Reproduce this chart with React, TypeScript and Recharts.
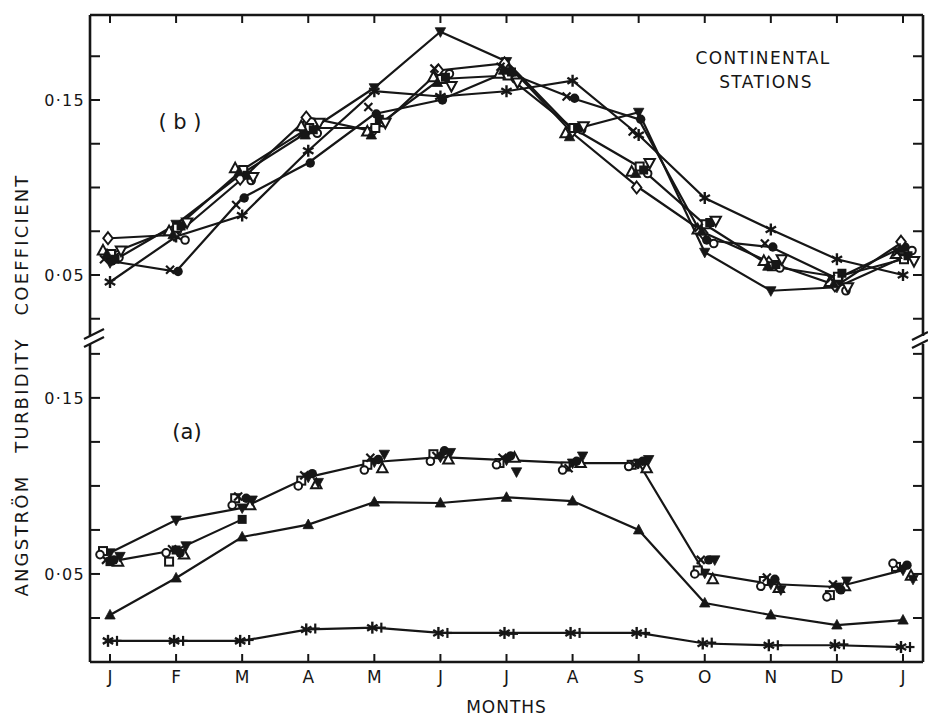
import React from "react";
import { Line, LineChart, XAxis, YAxis } from "recharts";

const W = 928;
const H = 717;
const INK = "#161616";
const FONT = "'DejaVu Sans', sans-serif";

// months on the shared x axis
const months = ["J", "F", "M", "A", "M", "J", "J", "A", "S", "O", "N", "D", "J"];
const axisTicks = [0.025, 0.05, 0.075, 0.1, 0.125, 0.15, 0.175];
const labelledTicks = [0.05, 0.15];

// (b) continental stations, joined series
const bDownFill = [0.057, 0.079, 0.108, 0.132, 0.157, 0.189, 0.172, 0.133, 0.143, 0.063, 0.041, 0.043, 0.06];
const bStar = [0.046, 0.072, 0.084, 0.121, 0.155, 0.152, 0.155, 0.161, 0.13, 0.094, 0.076, 0.059, 0.05];
const bDisc = [0.058, 0.052, 0.094, 0.114, 0.142, 0.15, 0.166, 0.151, 0.139, 0.07, 0.066, 0.048, 0.066];
const bDiamond = [0.071, 0.073, 0.105, 0.14, 0.132, 0.167, 0.171, 0.131, 0.1, 0.074, 0.057, 0.044, 0.069];
const bSquare = [0.062, 0.077, 0.11, 0.134, 0.134, 0.162, 0.164, 0.134, 0.112, 0.079, 0.055, 0.049, 0.059];
// (b) remaining stations, symbols only
const bTri = [0.064, 0.075, 0.111, 0.135, 0.132, 0.163, 0.165, 0.131, 0.109, 0.076, 0.058, 0.046, 0.062];
const bCircle = [0.06, 0.07, 0.104, 0.131, 0.137, 0.165, 0.162, 0.133, 0.108, 0.068, 0.054, 0.041, 0.064];
const bBlock = [0.059, 0.078, 0.107, 0.133, 0.139, 0.163, 0.166, 0.134, 0.11, 0.08, 0.056, 0.051, 0.061];
const bCross = [0.059, 0.053, 0.09, 0.131, 0.146, 0.168, 0.169, 0.152, 0.132, 0.077, 0.068, 0.048, 0.063];
const bDown = [0.064, 0.08, 0.106, 0.137, 0.137, 0.158, 0.16, 0.135, 0.114, 0.081, 0.059, 0.043, 0.058];
const bTriFill = [0.062, 0.073, 0.109, 0.13, 0.13, 0.16, 0.167, 0.129, 0.108, 0.075, 0.055, 0.045, 0.065];

// (a) joined series
const aDownFill = [0.062, 0.0806, 0.0875, 0.105, 0.1136, 0.1164, 0.1147, 0.113, 0.113, 0.0505, 0.0443, 0.0426, 0.0522];
const aBlock = [0.057, 0.0636, 0.081, null, null, null, null, null, null, null, null, null, null];
const aTriFill = [0.0267, 0.0477, 0.071, 0.078, 0.0908, 0.0903, 0.0935, 0.0914, 0.075, 0.0335, 0.0267, 0.021, 0.0238];
const aStar = [0.012, 0.012, 0.012, 0.0185, 0.0195, 0.0165, 0.0165, 0.0165, 0.0165, 0.0105, 0.0095, 0.0095, 0.0085];
// (a) symbols only
const aPlus = [0.012, 0.012, 0.0125, 0.019, 0.0195, 0.0165, 0.016, 0.0165, 0.0165, 0.011, 0.0095, 0.01, 0.0085];
const aSquare = [0.063, 0.057, 0.093, 0.103, 0.112, 0.118, 0.113, 0.111, 0.112, 0.052, 0.046, 0.038, 0.054];
const aTri = [0.057, 0.061, 0.089, 0.101, 0.11, 0.115, 0.116, 0.113, 0.11, 0.047, 0.042, 0.043, 0.049];
const aDisc = [0.058, 0.062, 0.093, 0.107, 0.115, 0.12, 0.117, 0.114, 0.114, 0.058, 0.047, 0.041, 0.055];
const aCross = [0.058, 0.064, 0.094, 0.106, 0.116, 0.117, 0.116, 0.11, 0.112, 0.058, 0.048, 0.044, 0.053];
const aDown = [0.06, 0.066, 0.092, 0.102, 0.118, 0.119, 0.108, 0.117, 0.115, 0.058, 0.041, 0.046, 0.047];
const aCircle = [0.061, 0.062, 0.089, 0.1, 0.109, 0.114, 0.112, 0.109, 0.111, 0.05, 0.043, 0.037, 0.056];

type Shape =
  | "disc"
  | "circle"
  | "block"
  | "square"
  | "tri"
  | "triFill"
  | "down"
  | "downFill"
  | "diamond"
  | "cross"
  | "star"
  | "plus";

type Series = {
  key: string;
  values: (number | null)[];
  shape: Shape;
  joined: boolean;
  dx: number;
};

const topSeries: Series[] = [
  { key: "bDownFill", values: bDownFill, shape: "downFill", joined: true, dx: 0 },
  { key: "bStar", values: bStar, shape: "star", joined: true, dx: 0 },
  { key: "bDisc", values: bDisc, shape: "disc", joined: true, dx: 2 },
  { key: "bDiamond", values: bDiamond, shape: "diamond", joined: true, dx: -2 },
  { key: "bSquare", values: bSquare, shape: "square", joined: true, dx: 1 },
  { key: "bTri", values: bTri, shape: "tri", joined: false, dx: -7 },
  { key: "bCircle", values: bCircle, shape: "circle", joined: false, dx: 9 },
  { key: "bBlock", values: bBlock, shape: "block", joined: false, dx: 5 },
  { key: "bCross", values: bCross, shape: "cross", joined: false, dx: -6 },
  { key: "bDown", values: bDown, shape: "down", joined: false, dx: 11 },
  { key: "bTriFill", values: bTriFill, shape: "triFill", joined: false, dx: -3 },
];

const bottomSeries: Series[] = [
  { key: "aDownFill", values: aDownFill, shape: "downFill", joined: true, dx: 0 },
  { key: "aBlock", values: aBlock, shape: "block", joined: true, dx: 0 },
  { key: "aTriFill", values: aTriFill, shape: "triFill", joined: true, dx: 0 },
  { key: "aStar", values: aStar, shape: "star", joined: true, dx: -2 },
  { key: "aPlus", values: aPlus, shape: "plus", joined: false, dx: 7 },
  { key: "aSquare", values: aSquare, shape: "square", joined: false, dx: -7 },
  { key: "aTri", values: aTri, shape: "tri", joined: false, dx: 8 },
  { key: "aDisc", values: aDisc, shape: "disc", joined: false, dx: 4 },
  { key: "aCross", values: aCross, shape: "cross", joined: false, dx: -4 },
  { key: "aDown", values: aDown, shape: "downFill", joined: false, dx: 10 },
  { key: "aCircle", values: aCircle, shape: "circle", joined: false, dx: -10 },
];

function buildRows(series: Series[]) {
  return months.map((_, i) => {
    const row: Record<string, number | null> = { m: i };
    series.forEach((s) => {
      row[s.key] = s.values[i];
    });
    return row;
  });
}

const topRows = buildRows(topSeries);
const bottomRows = buildRows(bottomSeries);

function Marker({ cx, cy, shape }: { cx: number; cy: number; shape: Shape }) {
  const sw = 2;
  switch (shape) {
    case "disc":
      return <circle cx={cx} cy={cy} r={4.7} fill={INK} />;
    case "circle":
      return <circle cx={cx} cy={cy} r={3.8} fill="#fff" stroke={INK} strokeWidth={sw} />;
    case "block":
      return <rect x={cx - 4.5} y={cy - 4.5} width={9} height={9} fill={INK} />;
    case "square":
      return <rect x={cx - 4} y={cy - 4} width={8} height={8} fill="#fff" stroke={INK} strokeWidth={sw} />;
    case "tri":
    case "triFill":
      return (
        <polygon
          points={`${cx},${cy - 5.6} ${cx + 5.2},${cy + 4} ${cx - 5.2},${cy + 4}`}
          fill={shape === "tri" ? "#fff" : INK}
          stroke={INK}
          strokeWidth={shape === "tri" ? sw : 0.8}
        />
      );
    case "down":
    case "downFill":
      return (
        <polygon
          points={`${cx},${cy + 5.6} ${cx + 5.2},${cy - 4} ${cx - 5.2},${cy - 4}`}
          fill={shape === "down" ? "#fff" : INK}
          stroke={INK}
          strokeWidth={shape === "down" ? sw : 0.8}
        />
      );
    case "diamond":
      return (
        <polygon
          points={`${cx},${cy - 6} ${cx + 4.7},${cy} ${cx},${cy + 6} ${cx - 4.7},${cy}`}
          fill="#fff"
          stroke={INK}
          strokeWidth={sw}
        />
      );
    case "cross":
      return (
        <g stroke={INK} strokeWidth={2.2}>
          <line x1={cx - 4} y1={cy - 4} x2={cx + 4} y2={cy + 4} />
          <line x1={cx - 4} y1={cy + 4} x2={cx + 4} y2={cy - 4} />
        </g>
      );
    case "star":
      return (
        <g stroke={INK} strokeWidth={2.4}>
          <line x1={cx} y1={cy - 6} x2={cx} y2={cy + 6} />
          <line x1={cx - 5.2} y1={cy - 3} x2={cx + 5.2} y2={cy + 3} />
          <line x1={cx - 5.2} y1={cy + 3} x2={cx + 5.2} y2={cy - 3} />
        </g>
      );
    case "plus":
      return (
        <g stroke={INK} strokeWidth={2.2}>
          <line x1={cx} y1={cy - 5} x2={cx} y2={cy + 5} />
          <line x1={cx - 4.5} y1={cy} x2={cx + 4.5} y2={cy} />
        </g>
      );
    default:
      return null;
  }
}

function dotFor(s: Series) {
  return (p: any) => {
    const key = `${s.key}-${p.index}`;
    if (p.cx == null || p.cy == null || p.value == null) return <g key={key} />;
    return (
      <g key={key}>
        <Marker cx={p.cx + s.dx} cy={p.cy} shape={s.shape} />
      </g>
    );
  };
}

const tickFormat = (v: number) => v.toFixed(2).replace(".", "·");

function LeftTick(p: any) {
  const v = Number(p.payload.value);
  const show = labelledTicks.some((t) => Math.abs(t - v) < 1e-6);
  return (
    <g>
      <line x1={p.x} x2={p.x + 10} y1={p.y} y2={p.y} stroke={INK} strokeWidth={2} />
      {show ? (
        <text
          x={p.x - 5}
          y={p.y}
          dy="0.36em"
          textAnchor="end"
          fill={INK}
          fontSize={16}
          fontFamily={FONT}
          letterSpacing={1.3}
        >
          {tickFormat(v)}
        </text>
      ) : null}
    </g>
  );
}

function RightTick(p: any) {
  return <line x1={p.x} x2={p.x - 10} y1={p.y} y2={p.y} stroke={INK} strokeWidth={2} />;
}

function TopTick(p: any) {
  return <line x1={p.x} x2={p.x} y1={p.y} y2={p.y + 8} stroke={INK} strokeWidth={2} />;
}

function MonthTick(p: any) {
  return (
    <g>
      <line x1={p.x} x2={p.x} y1={p.y} y2={p.y - 8} stroke={INK} strokeWidth={2} />
      <text x={p.x} y={p.y + 21} textAnchor="middle" fill={INK} fontSize={17} fontFamily={FONT}>
        {months[Number(p.payload.value)]}
      </text>
    </g>
  );
}

const axisLine = { stroke: INK, strokeWidth: 2.6 };

function renderSeries(series: Series[]) {
  return series.map((s) => (
    <Line
      key={s.key}
      yAxisId="l"
      type="linear"
      dataKey={s.key}
      stroke={s.joined ? INK : "none"}
      strokeWidth={s.joined ? 2.2 : 0}
      dot={dotFor(s)}
      activeDot={false}
      connectNulls={false}
      isAnimationActive={false}
    />
  ));
}

function Panel({
  rows,
  series,
  top,
  bottom,
  domain,
  isTop,
}: {
  rows: Record<string, number | null>[];
  series: Series[];
  top: number;
  bottom: number;
  domain: [number, number];
  isTop: boolean;
}) {
  return (
    <div style={{ position: "absolute", left: 0, top: 0 }}>
      <LineChart
        width={W}
        height={H}
        data={rows}
        margin={{ top: isTop ? top - 1 : top, right: 4, left: 89, bottom: isTop ? H - bottom : 0 }}
      >
        {isTop ? (
          <XAxis
            dataKey="m"
            orientation="top"
            height={1}
            padding={{ left: 20, right: 20 }}
            interval={0}
            tickSize={0}
            tickMargin={0}
            tickLine={false}
            axisLine={axisLine}
            tick={(p: any) => <TopTick {...p} />}
          />
        ) : (
          <XAxis
            dataKey="m"
            orientation="bottom"
            height={H - bottom}
            padding={{ left: 20, right: 20 }}
            interval={0}
            tickSize={0}
            tickMargin={0}
            tickLine={false}
            axisLine={axisLine}
            tick={(p: any) => <MonthTick {...p} />}
            label={{
              value: "MONTHS",
              position: "insideBottom",
              offset: 4,
              fill: INK,
              fontSize: 17,
              fontFamily: FONT,
              letterSpacing: 1,
            }}
          />
        )}
        <YAxis
          yAxisId="l"
          type="number"
          domain={domain}
          allowDataOverflow
          ticks={axisTicks}
          interval={0}
          width={1}
          tickSize={0}
          tickMargin={0}
          tickLine={false}
          axisLine={axisLine}
          tick={(p: any) => <LeftTick {...p} />}
        />
        <YAxis
          yAxisId="r"
          orientation="right"
          type="number"
          domain={domain}
          allowDataOverflow
          ticks={axisTicks}
          interval={0}
          width={1}
          tickSize={0}
          tickMargin={0}
          tickLine={false}
          axisLine={axisLine}
          tick={(p: any) => <RightTick {...p} />}
        />
        {renderSeries(series)}
      </LineChart>
    </div>
  );
}

function Annotations() {
  const brk = { stroke: INK, strokeWidth: 2.2, fill: "none" };
  return (
    <svg
      width={W}
      height={H}
      style={{ position: "absolute", left: 0, top: 0, pointerEvents: "none" }}
    >
      <text
        transform="translate(21 385) rotate(-90)"
        textAnchor="middle"
        dominantBaseline="central"
        fill={INK}
        fontSize={18}
        fontFamily={FONT}
        letterSpacing={2.2}
        wordSpacing={14}
      >
        ANGSTRÖM TURBIDITY COEFFICIENT
      </text>
      <text x={763} y={64} textAnchor="middle" fill={INK} fontSize={17} fontFamily={FONT} letterSpacing={1.4}>
        CONTINENTAL
      </text>
      <text x={766} y={88} textAnchor="middle" fill={INK} fontSize={17} fontFamily={FONT} letterSpacing={1.4}>
        STATIONS
      </text>
      <text x={180} y={129} textAnchor="middle" fill={INK} fontSize={21} fontFamily={FONT}>
        ( b )
      </text>
      <text x={187} y={439} textAnchor="middle" fill={INK} fontSize={21} fontFamily={FONT}>
        (a)
      </text>
      <path d="M 84 339 L 104 329" {...brk} />
      <path d="M 84 347 L 104 337" {...brk} />
      <path d="M 912 340 L 928 332" {...brk} />
      <path d="M 912 348 L 928 340" {...brk} />
    </svg>
  );
}

export default function App() {
  return (
    <div style={{ position: "absolute", left: 0, top: 0, width: W, height: H, background: "#fff" }}>
      <Panel rows={topRows} series={topSeries} top={15} bottom={336} domain={[0.01514, 0.19857]} isTop />
      <Panel rows={bottomRows} series={bottomSeries} top={344} bottom={662} domain={[0, 0.1806]} isTop={false} />
      <Annotations />
    </div>
  );
}
